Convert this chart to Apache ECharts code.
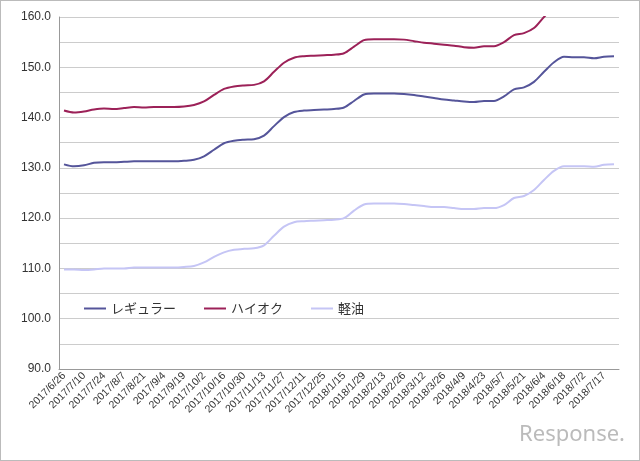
<!DOCTYPE html><html><head><meta charset="utf-8"><script src="https://cdn.jsdelivr.net/npm/echarts@6/dist/echarts.min.js"></script>
<style>body{margin:0}#c{width:640px;height:461px;box-sizing:border-box;border:1px solid #bbb}</style></head><body><div id="c"></div><script>
const categories=['2017/6/26','2017/7/3','2017/7/10','2017/7/18','2017/7/24','2017/7/31','2017/8/7','2017/8/14','2017/8/21','2017/8/28','2017/9/4','2017/9/11','2017/9/19','2017/9/25','2017/10/2','2017/10/10','2017/10/16','2017/10/23','2017/10/30','2017/11/6','2017/11/13','2017/11/20','2017/11/27','2017/12/4','2017/12/11','2017/12/18','2017/12/25','2018/1/9','2018/1/15','2018/1/22','2018/1/29','2018/2/5','2018/2/13','2018/2/19','2018/2/26','2018/3/5','2018/3/12','2018/3/19','2018/3/26','2018/4/2','2018/4/9','2018/4/16','2018/4/23','2018/5/1','2018/5/7','2018/5/14','2018/5/21','2018/5/28','2018/6/4','2018/6/11','2018/6/18','2018/6/25','2018/7/2','2018/7/9','2018/7/17','2018/7/23'];
const regular=[130.7,130.3,130.5,131.0,131.1,131.1,131.2,131.3,131.3,131.3,131.3,131.3,131.4,131.6,132.3,133.6,134.9,135.4,135.6,135.7,136.4,138.3,140.1,141.1,141.4,141.5,141.6,141.7,142.0,143.3,144.6,144.8,144.8,144.8,144.7,144.5,144.2,143.9,143.6,143.4,143.2,143.1,143.3,143.3,144.2,145.6,146.0,147.1,149.1,151.0,152.1,152.0,152.0,151.8,152.1,152.2];
const highOctane=[141.4,141.0,141.2,141.6,141.8,141.7,141.9,142.1,142.0,142.1,142.1,142.1,142.2,142.5,143.2,144.5,145.7,146.2,146.4,146.5,147.2,149.1,150.9,151.9,152.2,152.3,152.4,152.5,152.8,154.1,155.4,155.6,155.6,155.6,155.5,155.2,154.9,154.7,154.5,154.3,154.0,153.9,154.2,154.2,155.0,156.4,156.8,157.8,160.0,162.0,163.1,163.0,163.0,162.9,163.2,163.3];
const diesel=[109.8,109.8,109.7,109.8,110.0,110.0,110.0,110.2,110.2,110.2,110.2,110.2,110.3,110.5,111.2,112.3,113.2,113.7,113.9,114.0,114.6,116.5,118.3,119.2,119.4,119.5,119.6,119.7,120.0,121.5,122.7,122.9,122.9,122.9,122.8,122.6,122.4,122.2,122.2,122.0,121.8,121.8,122.0,122.0,122.6,124.0,124.4,125.6,127.6,129.4,130.3,130.3,130.3,130.2,130.6,130.7];
const names=['レギュラー','ハイオク','軽油'];
const c=echarts.init(document.getElementById('c'));
const ln=(name,d,col)=>({name,type:'line',data:d,symbol:'none',smooth:0.3,clip:true,lineStyle:{color:col,width:2},itemStyle:{color:col}});
c.setOption({animation:false,
grid:{left:58,right:20,top:16,bottom:91},
legend:{left:78,top:296,itemWidth:22,itemHeight:2,itemGap:28,icon:'rect',textStyle:{fontSize:13,color:'#333',fontFamily:'Noto Sans CJK JP'},data:names},
xAxis:{type:'category',data:categories,boundaryGap:true,axisTick:{show:false},axisLine:{lineStyle:{color:'#999'}},axisLabel:{interval:1,hideOverlap:false,rotate:45,fontSize:10.5,color:'#333',margin:5}},
yAxis:{type:'value',min:90,max:160,interval:5,axisLine:{show:true,lineStyle:{color:'#999'}},splitLine:{lineStyle:{color:'#ccc'}},axisLabel:{fontSize:12,color:'#333',formatter:v=>v%10===0?v.toFixed(1):''}},
graphic:[{type:'text',right:14,bottom:14,style:{text:'Response.',fontSize:22,fill:'#bbb',fontFamily:'Noto Sans'}}],
series:[ln(names[0],regular,'#55559a'),ln(names[1],highOctane,'#9c2158'),ln(names[2],diesel,'#c5c5f5')]});
</script></body></html>
